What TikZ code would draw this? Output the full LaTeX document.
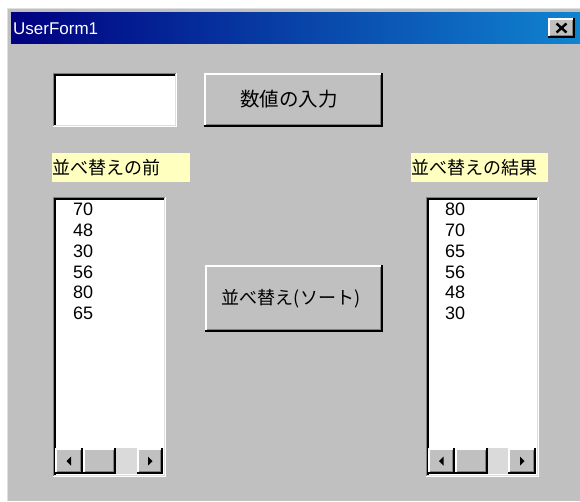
\documentclass[tikz,border=0pt]{standalone}
\usepackage{fontspec}
\setmainfont{Liberation Sans}
\newfontfamily\jpfont{Noto Sans CJK JP}
\definecolor{uigray}{RGB}{192,192,192}
\definecolor{uidark}{RGB}{128,128,128}
\definecolor{uilight}{RGB}{223,223,223}
\definecolor{uitrack}{RGB}{218,218,218}
\definecolor{titleL}{RGB}{0,0,128}
\definecolor{titleR}{RGB}{16,132,208}
\definecolor{lblyellow}{RGB}{255,255,192}
\newcommand\uiRaised[4]{%
 \fill[uigray] (#1,#2) rectangle (#3,#4);
 \draw[white,line width=1.5pt] ({#1+0.75},{#4-1}) -- ({#1+0.75},{#2+0.75}) -- ({#3-1},{#2+0.75});
 \draw[black,line width=2pt] (#1,{#4-1}) -- ({#3-1},{#4-1}) -- ({#3-1},#2);
 \draw[uidark,line width=1pt] ({#1+1.5},{#4-2.5}) -- ({#3-2.5},{#4-2.5}) -- ({#3-2.5},{#2+1.5});
}
\newcommand\uiSunken[4]{%
 \fill[white] (#1,#2) rectangle (#3,#4);
 \draw[uidark,line width=1pt] ({#1+0.5},#4) -- ({#1+0.5},{#2+0.5}) -- (#3,{#2+0.5});
 \draw[black,line width=2pt] ({#1+2},{#4-1}) -- ({#1+2},{#2+2}) -- ({#3-1},{#2+2});
 \draw[white,line width=1pt] (#1,{#4-0.5}) -- ({#3-0.5},{#4-0.5}) -- ({#3-0.5},#2);
 \draw[uilight,line width=1pt] ({#1+1},{#4-1.5}) -- ({#3-1.5},{#4-1.5}) -- ({#3-1.5},{#2+1});
}
% scrollbar: y1 y2, leftbtn x1 x2, thumb x2 x3, track x3 x4, rightbtn x4 x5
\newcommand\uiScroll[7]{%
 \fill[uitrack] (#5,#1) rectangle (#6,#2);
 \uiRaised{#3}{#1}{#4}{#2}
 \uiRaised{#4}{#1}{#5}{#2}
 \uiRaised{#6}{#1}{#7}{#2}
 \fill[black] ({(#3+#4)/2+2},{(#1+#2)/2-4.5}) -- ({(#3+#4)/2-2.5},{(#1+#2)/2}) -- ({(#3+#4)/2+2},{(#1+#2)/2+4.5}) -- cycle;
 \fill[black] ({(#6+#7)/2-2},{(#1+#2)/2-4.5}) -- ({(#6+#7)/2+2.5},{(#1+#2)/2}) -- ({(#6+#7)/2-2},{(#1+#2)/2+4.5}) -- cycle;
}
\tikzset{
 jptext/.style={inner sep=0pt, text=black, font=\jpfont\fontsize{18}{20}\selectfont},
 lbl/.style={jptext, fill=lblyellow, anchor=north west, minimum height=29pt, text width=#1, align=left},
 listtxt/.style={inner sep=0pt, anchor=north west, align=left, text=black, font=\fontsize{18}{20.8}\selectfont},
}
\begin{document}
\begin{tikzpicture}[x=1pt,y=-1pt]
\useasboundingbox (0,0) rectangle (580,501);
\fill[white] (0,0) rectangle (580,501);
\fill[uigray] (7,8) rectangle (580,501);
\draw[uilight,line width=1pt] (7.5,501) -- (7.5,8.5) -- (580,8.5);
\shade[left color=titleL, right color=titleR] (11,12) rectangle (580,43);
\node[anchor=base west, inner sep=0pt, text=white, font=\fontsize{17}{18}\selectfont] (title) at (13,34) {UserForm1};
\uiRaised{548}{18}{575}{38}
\coordinate (xa) at (556.5,23.5);
\coordinate (xb) at (566.5,32.5);
\coordinate (xc) at (556.5,32.5);
\coordinate (xd) at (566.5,23.5);
\draw[black,line width=2.4pt] (xa) -- (xb);
\draw[black,line width=2.4pt] (xc) -- (xd);
% input box and button
\uiSunken{53}{73}{177}{127}
\uiRaised{204}{73}{383}{127}
\node[jptext, font=\jpfont\fontsize{19.5}{21}\selectfont] (btnin) at (289,99) {数値の入力};
% labels
\node[lbl=138pt] (lblbefore) at (52,153) {並べ替えの前};
\node[lbl=137pt] (lblafter) at (411,153) {並べ替えの結果};
% list boxes
\uiSunken{53}{197}{166}{477}
\uiScroll{448}{474}{55}{83}{116}{137}{163}
\node[listtxt] (listbefore) at (73,203) {70\\48\\30\\56\\80\\65};
\uiSunken{426}{197}{539}{477}
\uiScroll{448}{474}{428}{455}{488}{508}{536}
\node[listtxt] (listafter) at (445,203) {80\\70\\65\\56\\48\\30};
% sort button
\uiRaised{205}{265}{383}{332}
\node[jptext] (btnsort) at (291,299) {並べ替え(ソート)};
\end{tikzpicture}
\end{document}
